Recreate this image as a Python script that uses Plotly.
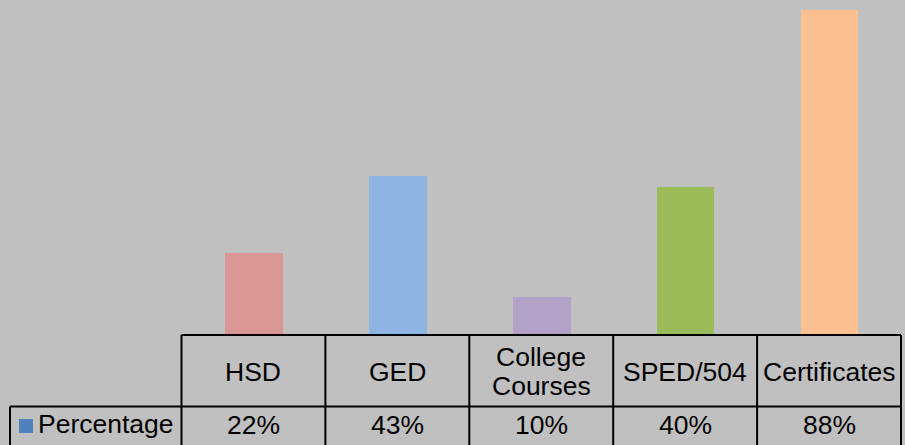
import plotly.graph_objects as go

categories = ["HSD", "GED", "College\nCourses", "SPED/504", "Certificates"]
values = [0.22, 0.43, 0.10, 0.40, 0.88]
bar_colors = ["#D99694", "#8EB4E3", "#B3A2C7", "#9BBB59", "#FAC090"]
series_name = "Percentage"
series_color = "#4F81BD"

W, H = 905, 445
BG = "#C0C0C0"
FONT = "Liberation Sans, Arial, sans-serif"
FS = 26.5

# layout geometry in pixels
tab_left = 181.5
tab_right = 901
legend_left = 10
row_top = 335
row_mid = 406.5
row_bot = 446
plot_bottom = 334

def px(x):
    return x / W

def py(y):
    return 1 - y / H

n = len(categories)
xs = list(range(n))

fig = go.Figure()
fig.add_trace(go.Bar(
    x=xs, y=values, name=series_name,
    marker=dict(color=bar_colors, line=dict(width=0)),
    width=0.40, showlegend=False, hoverinfo="skip",
))

shapes = []
line = dict(color="black", width=2)
shapes.append(dict(type="line", xref="paper", yref="paper",
                   x0=px(tab_left), x1=px(tab_right), y0=py(row_top), y1=py(row_top), line=line))
shapes.append(dict(type="line", xref="paper", yref="paper",
                   x0=px(legend_left), x1=px(tab_right), y0=py(row_mid), y1=py(row_mid), line=line))
col_w = (tab_right - tab_left) / n
for i in range(n + 1):
    x = tab_left + i * col_w
    shapes.append(dict(type="line", xref="paper", yref="paper",
                       x0=px(x), x1=px(x), y0=py(row_top), y1=py(row_bot), line=line))
shapes.append(dict(type="line", xref="paper", yref="paper",
                   x0=px(legend_left), x1=px(legend_left), y0=py(row_mid), y1=py(row_bot), line=line))
shapes.append(dict(type="rect", xref="paper", yref="paper",
                   x0=px(19), x1=px(33), y0=py(419), y1=py(433),
                   fillcolor=series_color, line=dict(width=0)))

annotations = []
font = dict(family=FONT, size=FS, color="black")
header_mid = (row_top + row_mid) / 2
value_mid = (row_mid + 446) / 2 - 1
line_gap = 29
for i, (cat, v) in enumerate(zip(categories, values)):
    lines = cat.split("\n")
    k = len(lines)
    for j, t in enumerate(lines):
        yy = header_mid + (j - (k - 1) / 2) * line_gap + 1
        annotations.append(dict(x=i, xref="x", y=py(yy), yref="paper", text=t,
                                showarrow=False, font=font, xanchor="center", yanchor="middle"))
    annotations.append(dict(x=i, xref="x", y=py(value_mid), yref="paper", text=f"{v:.0%}",
                            showarrow=False, font=font, xanchor="center", yanchor="middle"))
annotations.append(dict(x=px(36), xref="paper", y=py(value_mid - 1), yref="paper", text=series_name,
                        showarrow=False, font=font, xanchor="left", yanchor="middle"))

top_val = max(values) * plot_bottom / (plot_bottom - 10)

fig.update_layout(
    width=W, height=H,
    margin=dict(l=0, r=0, t=0, b=0),
    paper_bgcolor=BG, plot_bgcolor=BG,
    xaxis=dict(domain=[px(tab_left), px(tab_right)], range=[-0.5, n - 0.5],
               showticklabels=False, showgrid=False, zeroline=False, showline=False, ticks=""),
    yaxis=dict(domain=[py(plot_bottom), 1], range=[0, top_val],
               showticklabels=False, showgrid=False, zeroline=False, showline=False, ticks=""),
    shapes=shapes, annotations=annotations,
    bargap=0,
)

fig.write_html("out.html", config={"displayModeBar": False},
               post_script="document.body.style.margin='0';document.body.style.padding='0';")
